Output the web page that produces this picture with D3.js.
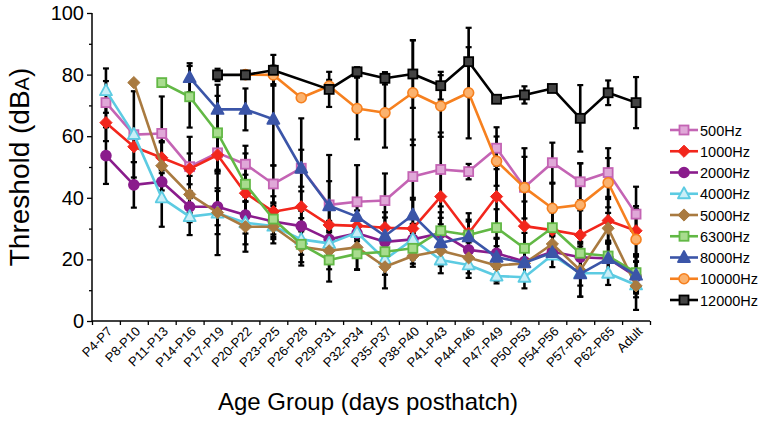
<!DOCTYPE html>
<html>
<head>
<meta charset="utf-8">
<script src="https://cdn.jsdelivr.net/npm/d3@7"></script>
<style>
  body { margin: 0; background: #fff; }
  svg { font-family: "Liberation Sans", Arial, Helvetica, sans-serif; }
</style>
</head>
<body>
<svg id="chart" width="763" height="432"></svg>
<script>
// categories (x)
const ageGroups = ["P4-P7", "P8-P10", "P11-P13", "P14-P16", "P17-P19", "P20-P22", "P23-P25",
  "P26-P28", "P29-P31", "P32-P34", "P35-P37", "P38-P40", "P41-P43", "P44-P46", "P47-P49",
  "P50-P53", "P54-P56", "P57-P61", "P62-P65", "Adult"];

const yTicks = [0, 20, 40, 60, 80, 100];
const yMinorTicks = [10, 30, 50, 70, 90];

// mean thresholds per frequency (null = not tested)
const hz500 = [70.9, 60.5, 60.9, 50.1, 54.6, 50.9, 44.5, 49.6, 37.7, 38.7, 39.1, 46.9, 49.2, 48.5, 56.1, 43.4, 51.4, 45.2, 48.2, 34.7];
const hz1000 = [64.4, 56.6, 53.0, 49.4, 53.9, 41.5, 35.5, 37.1, 31.2, 30.9, 30.3, 30.0, 40.4, 28.5, 40.4, 30.8, 29.5, 27.9, 32.6, 29.3];
const hz2000 = [53.7, 44.2, 45.2, 37.1, 37.1, 34.4, 32.3, 30.8, 26.5, 28.5, 25.7, 26.5, 28.5, 23.1, 22.0, 19.3, 22.5, 20.7, 20.3, 14.4];
const hz4000 = [74.8, 60.6, 40.0, 33.9, 35.0, 31.9, 30.8, 26.5, 25.2, 28.7, 20.0, 26.5, 19.8, 18.2, 14.6, 14.2, 21.4, 15.5, 15.5, 11.7];
const hz5000 = [null, 77.4, 50.4, 41.1, 35.2, 30.6, 30.6, 24.1, 22.8, 23.9, 17.6, 21.1, 22.8, 20.5, 18.0, 18.7, 25.0, 16.5, 30.1, 11.4];
const hz6300 = [null, null, 77.4, 72.8, 61.1, 44.4, 33.1, 24.9, 19.8, 21.8, 22.5, 23.6, 29.3, 27.9, 30.3, 23.6, 30.3, 22.0, 21.1, 15.7];
const hz8000 = [null, null, null, 79.0, 68.7, 68.7, 65.5, 49.6, 37.4, 33.9, 27.6, 34.4, 25.4, 27.3, 20.7, 18.9, 22.2, 15.3, 20.3, 14.9];
const hz10000 = [null, null, null, null, null, 80.0, 79.9, 72.5, 76.3, 69.0, 67.6, 74.1, 69.8, 74.1, 51.9, 43.3, 36.6, 37.7, 44.9, 26.5];
const hz12000 = [null, null, null, null, 79.9, 79.9, 81.4, null, 75.2, 80.9, 78.8, 80.2, 76.4, 84.2, 72.0, 73.4, 75.5, 65.8, 74.1, 70.9];

// error (SD) per frequency
const err500 = [7, 0, 12, 9.7, 6, 6, 6, 6, 16.2, 11.9, 8.8, 12, 12, 2.5, 6.8, 12.7, 6.5, 6, 7.9, 8.9];
const err1000 = [6, 5, 5, 5, 6, 6, 5, 5, 6, 5, 5, 10, 10, 6.5, 10, 8, 7, 8, 7, 8];
const err2000 = [9.2, 7.4, 6, 5, 6, 6, 5, 5, 6, 5, 5, 5, 5, 5, 5, 5, 5, 5, 5, 5];
const err4000 = [7.2, 14, 9.4, 6, 13.6, 7, 5.6, 5, 5, 5, 5, 5, 4.3, 4.2, 2.4, 3.6, 1.1, 4, 3.8, 4];
const err5000 = [0, 0, 8, 6, 7, 8.1, 4, 5, 6, 7.3, 7, 3.5, 5, 5, 5, 5, 3, 8.6, 5, 7.8];
const err6300 = [0, 0, 0, 10, 12, 10, 5, 6.9, 7, 5, 5, 5, 6, 5, 6, 5, 5, 5, 5, 6];
const err8000 = [0, 0, 0, 4.7, 8, 6.8, 15, 16.2, 8, 6, 6, 5, 6, 5, 6, 5, 2, 7.4, 5, 6];
const err10000 = [0, 0, 0, 0, 0, 0, 3, 0, 2, 10, 11.3, 17, 10, 14.8, 8, 10, 8, 13.5, 8, 10];
const err12000 = [0, 0, 0, 0, 2, 0.5, 5, 0, 5.7, 1.5, 2, 11, 4.5, 11, 1, 2.8, 0, 10.8, 4, 8.3];

const seriesNames = ["500Hz", "1000Hz", "2000Hz", "4000Hz", "5000Hz", "6300Hz", "8000Hz", "10000Hz", "12000Hz"];
const seriesValues = [hz500, hz1000, hz2000, hz4000, hz5000, hz6300, hz8000, hz10000, hz12000];
const seriesErrors = [err500, err1000, err2000, err4000, err5000, err6300, err8000, err10000, err12000];
const seriesColors = ["#c464b4", "#f2261c", "#8a1c8c", "#5ccbe2", "#a97a40", "#62b845", "#3b55a8", "#f6801f", "#000000"];
const seriesFills = ["#e0a8d8", "#f2261c", "#8a1c8c", "#c9eef7", "#a97a40", "#a8dc8e", "#3b55a8", "#fbb26e", "#444444"];
const seriesShapes = ["square", "diamond", "circle", "triangle", "diamond", "square", "triangle", "circle", "square"];

const svg = d3.select("#chart");

const x = d3.scaleBand().domain(ageGroups).range([92, 650]).padding(0);
const y = d3.scaleLinear().domain([0, 100]).range([321, 13]);
const xEdges = d3.scaleLinear().domain([0, ageGroups.length]).range([92, 650]);
const cx = d => x(d) + x.bandwidth() / 2;

const series = seriesNames.map((name, i) => ({
  name: name,
  color: seriesColors[i],
  fill: seriesFills[i],
  shape: seriesShapes[i],
  points: ageGroups.map((g, j) => ({ g: g, v: seriesValues[i][j], e: seriesErrors[i][j] }))
    .filter(p => p.v !== null)
}));

// axes
const yAxis = svg.append("g")
  .attr("transform", "translate(92,0)")
  .call(d3.axisLeft(y).tickValues(yTicks).tickSize(5).tickPadding(3));
yAxis.select(".domain").attr("d", "M0," + y(0) + "V" + y(100)).attr("stroke-width", 1.5);
yAxis.selectAll("text").style("font-size", "20px").attr("fill", "#000");
yAxis.selectAll(".tick line").attr("stroke-width", 1.3);

svg.append("g")
  .attr("transform", "translate(92,0)")
  .call(d3.axisLeft(y).tickValues(yMinorTicks).tickSize(3).tickFormat(""))
  .call(g => g.select(".domain").remove())
  .selectAll(".tick line").attr("stroke-width", 1.3);

const xAxis = svg.append("g")
  .attr("transform", "translate(0," + y(0) + ")")
  .call(d3.axisBottom(xEdges).ticks(ageGroups.length).tickSize(4).tickFormat(""));
xAxis.select(".domain").attr("d", "M92,0H650").attr("stroke-width", 1.5);
xAxis.selectAll(".tick line").attr("stroke-width", 1.3);

svg.append("g")
  .attr("transform", "translate(0," + y(0) + ")")
  .call(d3.axisBottom(x).tickSize(0).tickPadding(0))
  .call(g => g.select(".domain").remove())
  .selectAll("text")
    .attr("transform", "translate(4,8) rotate(-45)")
    .attr("dy", "0.35em")
    .style("text-anchor", "end")
    .style("font-size", "13px")
    .attr("fill", "#000");

// axis titles
svg.append("text")
  .attr("x", 368)
  .attr("y", 410)
  .attr("text-anchor", "middle")
  .style("font-size", "24px")
  .text("Age Group (days posthatch)");

const yTitle = svg.append("text")
  .attr("transform", "translate(29,167) rotate(-90)")
  .attr("text-anchor", "middle")
  .style("font-size", "28px");
yTitle.append("tspan").text("Threshold (dB");
yTitle.append("tspan").style("font-size", "20px").text("A");
yTitle.append("tspan").text(")");

// error bars (black, behind the lines)
const errG = svg.append("g");
series.forEach(s => {
  s.points.filter(p => p.e > 0).forEach(p => {
    const px = cx(p.g);
    errG.append("line")
      .attr("x1", px).attr("x2", px)
      .attr("y1", y(p.v + p.e)).attr("y2", y(p.v - p.e))
      .attr("stroke", "#000").attr("stroke-width", 2.6);
    [p.v + p.e, p.v - p.e].forEach(v => {
      errG.append("line")
        .attr("x1", px - 3).attr("x2", px + 3)
        .attr("y1", y(v)).attr("y2", y(v))
        .attr("stroke", "#000").attr("stroke-width", 2.2);
    });
  });
});

function marker(g, shape, px, py, color, fill) {
  if (shape === "square") {
    g.append("rect").attr("x", px - 4.5).attr("y", py - 4.5).attr("width", 9).attr("height", 9)
      .attr("fill", fill).attr("stroke", color).attr("stroke-width", 1.8);
  } else if (shape === "circle") {
    g.append("circle").attr("cx", px).attr("cy", py).attr("r", 5)
      .attr("fill", fill).attr("stroke", color).attr("stroke-width", 1.6);
  } else if (shape === "diamond") {
    g.append("path").attr("d", d3.symbol(d3.symbolDiamond2, 95)())
      .attr("transform", "translate(" + px + "," + py + ")")
      .attr("fill", fill).attr("stroke", color).attr("stroke-width", 1);
  } else {
    g.append("path").attr("d", "M0,-6.5L6,4.5L-6,4.5Z")
      .attr("transform", "translate(" + px + "," + py + ")")
      .attr("fill", fill).attr("stroke", color).attr("stroke-width", 1.8)
      .attr("stroke-linejoin", "round");
  }
}

const line = d3.line().x(p => cx(p.g)).y(p => y(p.v));

series.forEach(s => {
  const g = svg.append("g");
  g.append("path")
    .datum(s.points)
    .attr("d", line)
    .attr("fill", "none")
    .attr("stroke", s.color)
    .attr("stroke-width", 2.6)
    .attr("stroke-linejoin", "round");
  s.points.forEach(p => marker(g, s.shape, cx(p.g), y(p.v), s.color, s.fill));
});

// legend
const legend = svg.append("g");
series.forEach((s, i) => {
  const ly = 130 + i * 21.25;
  legend.append("line")
    .attr("x1", 670).attr("x2", 698).attr("y1", ly).attr("y2", ly)
    .attr("stroke", s.color).attr("stroke-width", 2.6);
  marker(legend, s.shape, 684, ly, s.color, s.fill);
  legend.append("text")
    .attr("x", 700).attr("y", ly + 5.5)
    .style("font-size", "14.5px")
    .text(s.name);
});
</script>
</body>
</html>
